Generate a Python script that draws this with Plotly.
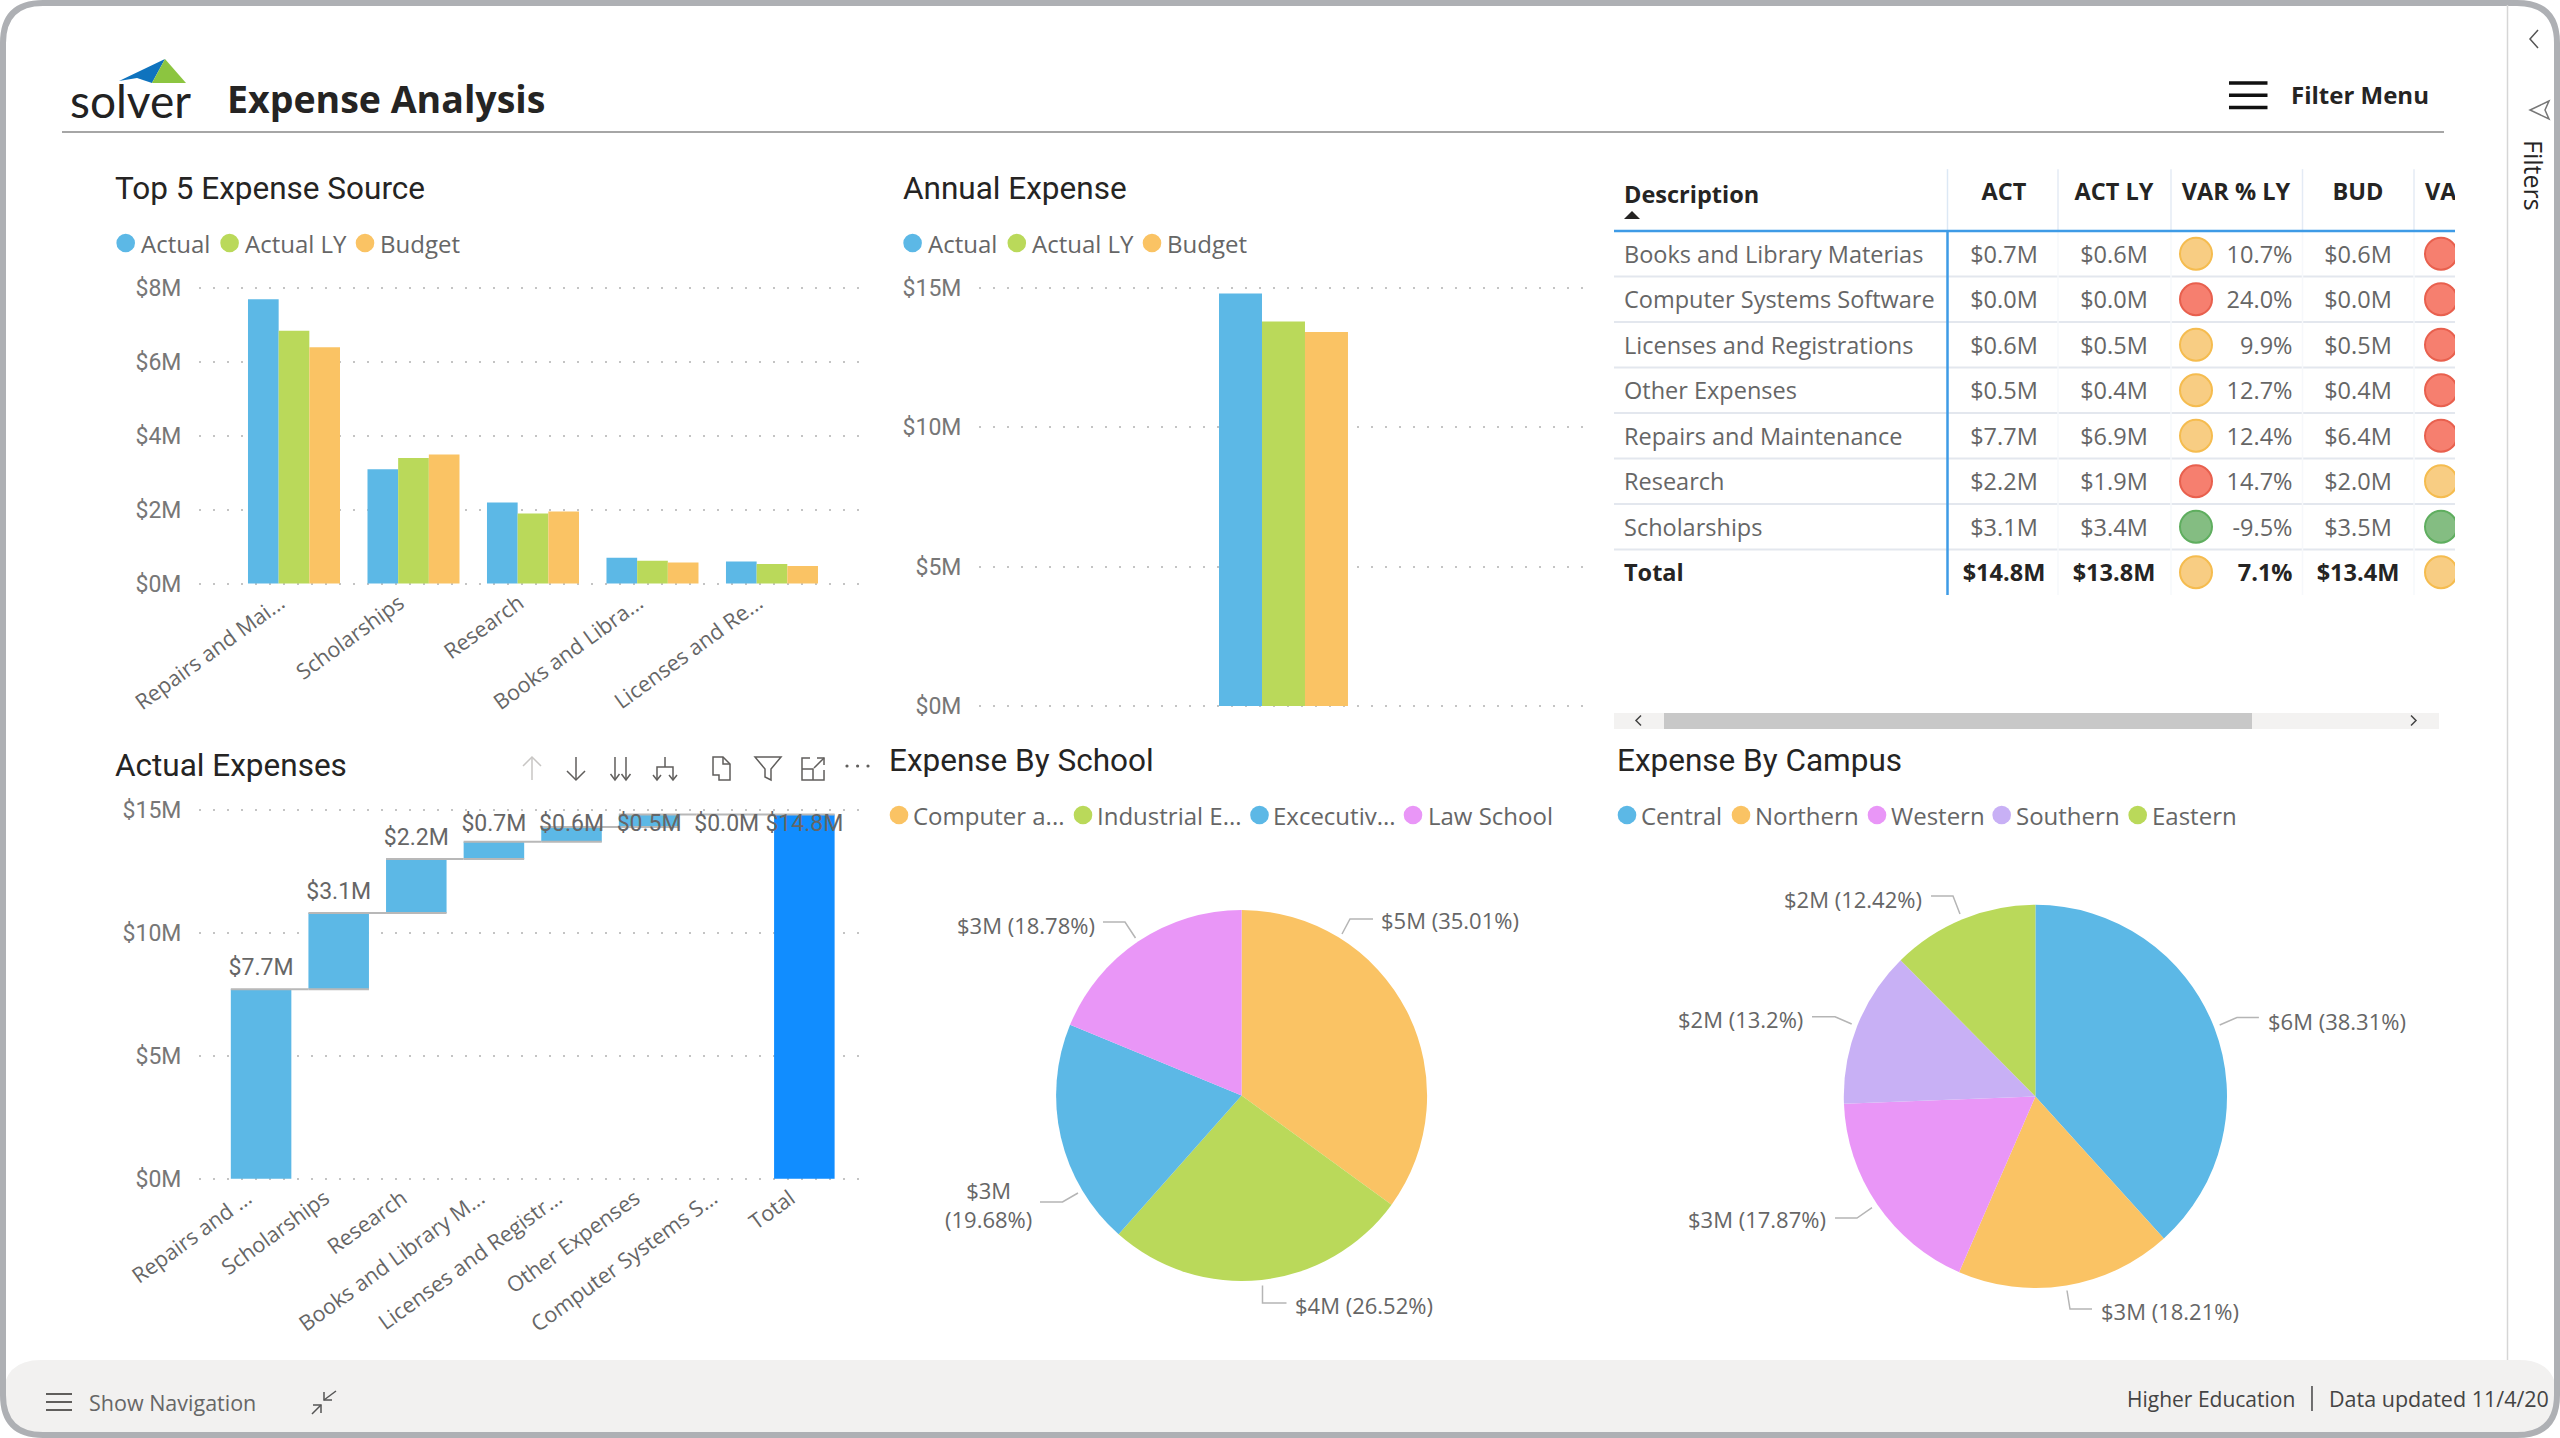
import plotly.graph_objects as go

# ---------- data ----------
TOP5_CATEGORIES = ["Repairs and Mai...", "Scholarships", "Research", "Books and Libra...", "Licenses and Re..."]
TOP5_ACTUAL = [7.7, 3.1, 2.2, 0.7, 0.6]
TOP5_ACTUAL_LY = [6.85, 3.4, 1.9, 0.62, 0.53]
TOP5_BUDGET = [6.4, 3.5, 1.95, 0.57, 0.48]
TOP5_TICKS = [0, 2, 4, 6, 8]
TOP5_TICK_LABELS = ["$0M", "$2M", "$4M", "$6M", "$8M"]

ANNUAL_ACTUAL = [14.8]
ANNUAL_ACTUAL_LY = [13.8]
ANNUAL_BUDGET = [13.42]
M15_TICKS = [0, 5, 10, 15]
M15_TICK_LABELS = ["$0M", "$5M", "$10M", "$15M"]

WF_CATEGORIES = ["Repairs and ...", "Scholarships", "Research", "Books and Library M...",
                 "Licenses and Registr...", "Other Expenses", "Computer Systems S...", "Total"]
WF_VALUES = [7.7, 3.1, 2.2, 0.7, 0.6, 0.5, 0.0, 14.8]
WF_MEASURES = ["relative"] * 7 + ["total"]
WF_LABELS = ["$7.7M", "$3.1M", "$2.2M", "$0.7M", "$0.6M", "$0.5M", "$0.0M", "$14.8M"]

SCHOOL_NAMES = ["Computer a...", "Industrial E...", "Excecutiv...", "Law School"]
SCHOOL_SHARE = [35.01, 26.52, 19.68, 18.78]
CAMPUS_NAMES = ["Central", "Northern", "Western", "Southern", "Eastern"]
CAMPUS_SHARE = [38.31, 18.21, 17.87, 13.2, 12.42]

TBL_DESC = ["Books and Library Materias", "Computer Systems Software", "Licenses and Registrations",
            "Other Expenses", "Repairs and Maintenance", "Research", "Scholarships", "Total"]
TBL_ACT = ["$0.7M", "$0.0M", "$0.6M", "$0.5M", "$7.7M", "$2.2M", "$3.1M", "$14.8M"]
TBL_ACT_LY = ["$0.6M", "$0.0M", "$0.5M", "$0.4M", "$6.9M", "$1.9M", "$3.4M", "$13.8M"]
TBL_VAR_LY = ["10.7%", "24.0%", "9.9%", "12.7%", "12.4%", "14.7%", "-9.5%", "7.1%"]
TBL_BUD = ["$0.6M", "$0.0M", "$0.5M", "$0.4M", "$6.4M", "$2.0M", "$3.5M", "$13.4M"]
TBL_STATUS_LY = ["amber", "red", "amber", "amber", "amber", "red", "green", "amber"]
TBL_STATUS_BUD = ["red", "red", "red", "red", "red", "amber", "green", "amber"]
TBL_HEADERS = ["ACT", "ACT LY", "VAR % LY", "BUD"]

# ---------- style ----------
W, H = 2560, 1438
BLUE, GREEN, ORANGE, PINK, PURPLE, DEEP = "#5CB8E6", "#BAD95A", "#FAC364", "#E996F7", "#C8B0F5", "#118DFF"
GREY_TXT, DARK_TXT, TITLE_TXT = "#666666", "#252423", "#252423"
BODY_FONT, DIN_FONT = "Open Sans", "Roboto"
STATUS_FILL = {"amber": "#F8CD83", "red": "#F67F6F", "green": "#84BD82"}
STATUS_LINE = {"amber": "#F5BC4F", "red": "#E8604E", "green": "#5FAE5F"}

px = lambda x: x / W
py = lambda y: 1 - y / H
shapes, annos = [], []


def text(x, y, s, anchor="left", size=24, color=GREY_TXT, font=BODY_FONT, angle=0):
    annos.append(dict(x=px(x), y=py(y), xref="paper", yref="paper", text=s, xanchor=anchor, yanchor="middle",
                      showarrow=False, borderwidth=0, borderpad=0, textangle=angle,
                      font=dict(family=font, size=size, color=color)))


def path(points, color="#B3B3B3", width=2, fill=None, close=False, layer="above"):
    d = "M " + " L ".join(f"{px(a):.5f},{py(b):.5f}" for a, b in points) + (" Z" if close else "")
    shapes.append(dict(type="path", xref="paper", yref="paper", path=d, layer=layer,
                       line=dict(color=color, width=width), fillcolor=fill or "rgba(0,0,0,0)"))


def dot(cx, cy, r, color):
    shapes.append(dict(type="circle", xref="paper", yref="paper", x0=px(cx - r), x1=px(cx + r),
                       y0=py(cy + r), y1=py(cy - r), fillcolor=color, line=dict(width=0)))


def legend(cy, items, size=24):
    for cx, tx, label, color in items:
        dot(cx, cy, 9.3, color)
        text(tx, cy, label, size=size, color=GREY_TXT)


def rounded(x0, y0, x1, y1, r):
    X, Y = px, py
    return (f"M {X(x0+r)},{Y(y0)} L {X(x1-r)},{Y(y0)} Q {X(x1)},{Y(y0)} {X(x1)},{Y(y0+r)} "
            f"L {X(x1)},{Y(y1-r)} Q {X(x1)},{Y(y1)} {X(x1-r)},{Y(y1)} L {X(x0+r)},{Y(y1)} "
            f"Q {X(x0)},{Y(y1)} {X(x0)},{Y(y1-r)} L {X(x0)},{Y(y0+r)} Q {X(x0)},{Y(y0)} {X(x0+r)},{Y(y0)} Z")


fig = go.Figure()

# ---------- top-5 grouped bars ----------
for name, vals, col in [("Actual", TOP5_ACTUAL, BLUE), ("Actual LY", TOP5_ACTUAL_LY, GREEN), ("Budget", TOP5_BUDGET, ORANGE)]:
    fig.add_bar(x=TOP5_CATEGORIES, y=vals, name=name, marker_color=col, marker_line_width=0, xaxis="x", yaxis="y",
                showlegend=False)
# ---------- annual grouped bars ----------
for name, vals, col in [("Actual", ANNUAL_ACTUAL, BLUE), ("Actual LY", ANNUAL_ACTUAL_LY, GREEN), ("Budget", ANNUAL_BUDGET, ORANGE)]:
    fig.add_bar(x=[0], y=vals, name=name, marker_color=col, marker_line_width=0, xaxis="x2", yaxis="y2",
                showlegend=False)
# ---------- waterfall ----------
fig.add_waterfall(x=WF_CATEGORIES, y=WF_VALUES, measure=WF_MEASURES, xaxis="x3", yaxis="y3", showlegend=False,
                  increasing=dict(marker=dict(color=BLUE, line=dict(width=0))),
                  decreasing=dict(marker=dict(color=BLUE, line=dict(width=0))),
                  totals=dict(marker=dict(color=DEEP, line=dict(width=0))),
                  connector=dict(mode="spanning", line=dict(color="#B8B8B8", width=2)))
running, label_y = 0.0, []
for v, m in zip(WF_VALUES, WF_MEASURES):
    running = v if m == "total" else running + v
    label_y.append(min(running + 0.8, 14.35))
fig.add_scatter(x=WF_CATEGORIES, y=label_y, text=WF_LABELS, mode="text", textposition="middle center", xaxis="x3",
                yaxis="y3", showlegend=False, cliponaxis=False,
                textfont=dict(family=DIN_FONT, size=23, color=GREY_TXT))


# ---------- pies ----------
def dom(x0, x1, y0, y1):
    return dict(x=[px(x0), px(x1)], y=[py(y1), py(y0)])


fig.add_pie(labels=SCHOOL_NAMES, values=SCHOOL_SHARE, sort=False, direction="clockwise", rotation=0, textinfo="none",
            marker=dict(colors=[ORANGE, GREEN, BLUE, PINK], line=dict(width=0)), showlegend=False,
            domain=dom(1056, 1427.2, 910, 1281))
fig.add_pie(labels=CAMPUS_NAMES, values=CAMPUS_SHARE, sort=False, direction="clockwise", rotation=0, textinfo="none",
            marker=dict(colors=[BLUE, ORANGE, PINK, PURPLE, GREEN], line=dict(width=0)), showlegend=False,
            domain=dom(1843.8, 2227, 904.8, 1288))

# ---------- table drawn on its own axes ----------
ROW_IDX = list(range(len(TBL_DESC)))
TEXT_ROWS = [r + 0.07 for r in ROW_IDX]
TABLE_FONT = 23.5


def cells(x, vals, pos):
    fig.add_scatter(x=[x] * 7, y=TEXT_ROWS[:7], text=vals[:7], mode="text", textposition=pos, xaxis="x4", yaxis="y4",
                    showlegend=False, textfont=dict(family=BODY_FONT, size=TABLE_FONT, color=GREY_TXT))
    fig.add_scatter(x=[x], y=TEXT_ROWS[7:], text=["<b>" + vals[7] + "</b>"], mode="text", textposition=pos, xaxis="x4",
                    yaxis="y4", showlegend=False, textfont=dict(family=BODY_FONT, size=TABLE_FONT, color=DARK_TXT))


for x, vals, pos in [(1624, TBL_DESC, "middle right"), (2004, TBL_ACT, "middle center"),
                     (2114, TBL_ACT_LY, "middle center"), (2292.5, TBL_VAR_LY, "middle left"),
                     (2358, TBL_BUD, "middle center")]:
    cells(x, vals, pos)
for x, stat in [(2196, TBL_STATUS_LY), (2441, TBL_STATUS_BUD)]:
    fig.add_scatter(x=[x] * 8, y=ROW_IDX, mode="markers", xaxis="x4", yaxis="y4", showlegend=False,
                    marker=dict(size=32, color=[STATUS_FILL[s] for s in stat],
                                line=dict(width=2, color=[STATUS_LINE[s] for s in stat])))
HEAD_Y = -1.30
fig.add_scatter(x=[2004, 2114, 2236, 2358], y=[HEAD_Y] * 4, text=["<b>" + h + "</b>" for h in TBL_HEADERS], mode="text",
                textposition="middle center", xaxis="x4", yaxis="y4", showlegend=False,
                textfont=dict(family=BODY_FONT, size=TABLE_FONT, color=DARK_TXT))
fig.add_scatter(x=[2425], y=[HEAD_Y], text=["<b>VA</b>"], mode="text", textposition="middle right", xaxis="x4",
                yaxis="y4", showlegend=False, textfont=dict(family=BODY_FONT, size=TABLE_FONT, color=DARK_TXT))
fig.add_scatter(x=[1624], y=[-1.25], text=["<b>Description</b>"], mode="text", textposition="middle right", xaxis="x4",
                yaxis="y4", showlegend=False, textfont=dict(family=BODY_FONT, size=TABLE_FONT, color=DARK_TXT))

for k in range(7):
    shapes.append(dict(type="line", xref="x4", yref="y4", x0=1614, x1=2455, y0=k + 0.5, y1=k + 0.5, layer="below",
                       line=dict(color="#E3E7EE", width=2)))
for xs in [2058, 2171, 2302.5, 2414]:
    shapes.append(dict(type="line", xref="x4", yref="y4", x0=xs, x1=xs, y0=-1.86, y1=-0.5, layer="below",
                       line=dict(color="#E4EBF5", width=1.5)))
    shapes.append(dict(type="line", xref="x4", yref="y4", x0=xs, x1=xs, y0=-0.5, y1=7.5, layer="below",
                       line=dict(color="#F6F8FB", width=1.5)))
shapes.append(dict(type="line", xref="x4", yref="y4", x0=1947.5, x1=1947.5, y0=-1.86, y1=-0.5, layer="below",
                   line=dict(color="#DCE8F5", width=1.5)))
shapes.append(dict(type="line", xref="x4", yref="y4", x0=1614, x1=2455, y0=-0.5, y1=-0.5,
                   line=dict(color="#3E9BE6", width=2.5)))
shapes.append(dict(type="line", xref="x4", yref="y4", x0=1947.5, x1=1947.5, y0=-0.5, y1=7.5,
                   line=dict(color="#3E9BE6", width=2.5)))
path([(1624, 219), (1640, 219), (1632, 211)], color=DARK_TXT, width=0, fill=DARK_TXT, close=True)

# ---------- scrollbar ----------
path([(1614, 713), (2439, 713), (2439, 729), (1614, 729)], color="#F3F2F1", width=0, fill="#F3F2F1", close=True)
path([(1664, 713), (2252, 713), (2252, 729), (1664, 729)], color="#C8C8C8", width=0, fill="#C8C8C8", close=True)
path([(1641, 715.5), (1636, 720.5), (1641, 725.5)], color="#444444", width=1.5)
path([(2411, 715.5), (2416, 720.5), (2411, 725.5)], color="#444444", width=1.5)

# ---------- page chrome ----------
shapes.insert(0, dict(type="path", xref="paper", yref="paper", layer="below", line=dict(width=0), fillcolor="#F2F1F0",
                      path=rounded(3, 1360, 2557, 1435, 38)))
shapes.append(dict(type="path", xref="paper", yref="paper", path=rounded(3, 3, 2557, 1435, 40), fillcolor="rgba(0,0,0,0)",
                   line=dict(color="#AEB0B4", width=6)))
path([(62, 132), (2444, 132)], color="#A6A6A6", width=2)
path([(2507.5, 5), (2507.5, 1360)], color="#D6D6D6", width=1.5)

# logo
path([(119, 81), (165, 59), (152, 83), (137, 78)], color="#0F73BE", width=0, fill="#0F73BE", close=True)
path([(165, 59), (186, 83), (152, 83)], color="#8CC540", width=0, fill="#8CC540", close=True)
text(70, 100, "solver", size=46, color="#222222", font="Lato")
text(227, 98, "<b>Expense Analysis</b>", size=37.5, color=DARK_TXT, font=BODY_FONT)

# filter menu
for y in (83, 95.3, 107.6):
    path([(2229, y), (2267.5, y)], color="#111111", width=3.5)
text(2291, 94, "<b>Filter Menu</b>", size=24, color=DARK_TXT)

# filters pane
path([(2538, 30), (2530, 39), (2538, 48)], color="#555555", width=1.5)
path([(2549, 101), (2530, 110), (2549, 119), (2545, 110)], color="#777777", width=1.5, close=True)
text(2534, 175, "Filters", anchor="center", size=25, color=DARK_TXT, angle=90)

# titles
TITLE = 31.5
text(115, 188, "Top 5 Expense Source", size=TITLE, color=TITLE_TXT, font=DIN_FONT)
text(903, 188, "Annual Expense", size=TITLE, color=TITLE_TXT, font=DIN_FONT)
text(115, 765, "Actual Expenses", size=TITLE, color=TITLE_TXT, font=DIN_FONT)
text(889, 760, "Expense By School", size=TITLE, color=TITLE_TXT, font=DIN_FONT)
text(1616.5, 760, "Expense By Campus", size=TITLE, color=TITLE_TXT, font=DIN_FONT)

# legends
legend(243, [(125.7, 140.6, "Actual", BLUE), (229.6, 245, "Actual LY", GREEN), (365, 379.5, "Budget", ORANGE)])
legend(243, [(912.6, 927.7, "Actual", BLUE), (1016.8, 1031.5, "Actual LY", GREEN), (1152, 1167.4, "Budget", ORANGE)])
legend(815, [(899, 913, SCHOOL_NAMES[0], ORANGE), (1083, 1097, SCHOOL_NAMES[1], GREEN),
             (1259.5, 1273, SCHOOL_NAMES[2], BLUE), (1413, 1428, SCHOOL_NAMES[3], PINK)])
legend(815, [(1627, 1641, CAMPUS_NAMES[0], BLUE), (1741, 1755, CAMPUS_NAMES[1], ORANGE),
             (1877, 1891, CAMPUS_NAMES[2], PINK), (2001.7, 2016.4, CAMPUS_NAMES[3], PURPLE),
             (2137.7, 2152, CAMPUS_NAMES[4], GREEN)])

# pie labels and leaders
PIE_LBL = 22
for x, y, s, a, pts in [
    (1381.4, 920, "$5M (35.01%)", "left", [(1342, 934), (1350, 919), (1373, 919)]),
    (1095, 924.7, "$3M (18.78%)", "right", [(1103, 922), (1125, 922), (1135.5, 938)]),
    (1032, 1204, "$3M<br>(19.68%)", "right", [(1040, 1202), (1062.5, 1202), (1078, 1193)]),
    (1295, 1305, "$4M (26.52%)", "left", [(1262.5, 1285.5), (1262.5, 1303), (1286.5, 1303)]),
    (2268, 1021, "$6M (38.31%)", "left", [(2219.7, 1025), (2236.9, 1017.6), (2258.9, 1017.6)]),
    (2101, 1310.7, "$3M (18.21%)", "left", [(2067, 1290.5), (2070, 1309), (2092, 1309)]),
    (1826, 1219, "$3M (17.87%)", "right", [(1835, 1218), (1857, 1218), (1872, 1207.6)]),
    (1803.3, 1019, "$2M (13.2%)", "right", [(1812, 1016.7), (1835, 1016.7), (1851.7, 1024)]),
    (1922, 898.6, "$2M (12.42%)", "right", [(1931, 896), (1953, 896), (1960, 914)]),
]:
    text(x, y, s, anchor=a, size=PIE_LBL, color=GREY_TXT)
    path(pts, color="#B5B5B5", width=1.5)

# waterfall visual-header icons
ICON, ICON_OFF = "#605E5C", "#C8C6C4"
path([(532, 757), (532, 780)], color=ICON_OFF, width=1.5)
path([(523, 766), (532, 757), (541, 766)], color=ICON_OFF, width=1.5)
path([(576, 757), (576, 780)], color=ICON, width=1.5)
path([(567, 771), (576, 780), (585, 771)], color=ICON, width=1.5)
for c in (615, 626):
    path([(c, 757), (c, 780)], color=ICON, width=1.5)
    path([(c - 4.5, 774), (c, 780), (c + 4.5, 774)], color=ICON, width=1.5)
path([(665, 757), (665, 767)], color=ICON, width=1.5)
path([(657, 780), (657, 767), (673, 767), (673, 780)], color=ICON, width=1.5)
for c in (657, 673):
    path([(c - 4, 775), (c, 780), (c + 4, 775)], color=ICON, width=1.5)
path([(713, 757), (723, 757), (730, 764), (730, 780), (719, 780), (719, 775), (713, 775)], color=ICON, width=1.5, close=True)
path([(723, 757), (723, 764), (730, 764)], color=ICON, width=1.5)
path([(755, 757), (781, 757), (771, 769), (771, 780), (765, 777), (765, 769)], color=ICON, width=1.5, close=True)
path([(810, 758), (802, 758), (802, 780), (824, 780), (824, 770)], color=ICON, width=1.5)
path([(802, 769), (813, 769), (813, 780)], color=ICON, width=1.5)
path([(814, 768), (824, 758)], color=ICON, width=1.5)
path([(817, 758), (824, 758), (824, 765)], color=ICON, width=1.5)
for c in (847, 857.6, 868):
    dot(c, 766, 1.6, ICON)

# bottom bar
for y in (1394, 1402, 1410):
    path([(46, y), (72, y)], color="#605E5C", width=2)
text(89, 1402, "Show Navigation", size=21.5, color=GREY_TXT)
path([(336, 1391), (324, 1400)], color="#555555", width=1.5)
path([(324, 1392), (324, 1400), (332, 1400)], color="#555555", width=1.5)
path([(312, 1414), (321, 1405)], color="#555555", width=1.5)
path([(313, 1405), (321, 1405), (321, 1413)], color="#555555", width=1.5)
text(2126.6, 1398.5, "Higher Education", size=21, color="#444444")
path([(2312, 1386), (2312, 1411)], color="#444444", width=1.5)
text(2328.7, 1398.5, "Data updated 11/4/20", size=21.5, color="#444444")


# ---------- layout ----------
def xdom(a, b):
    return [px(a), px(b)]


def yaxis_px(top, bottom, lo, hi, pad=2.0):
    """Axis pixel box with a small pad so that the first and last gridlines are still drawn."""
    per_px = (hi - lo) / (bottom - top)
    return dict(domain=[py(bottom + pad), py(top - pad)], range=[lo - pad * per_px, hi + pad * per_px])


GRID = dict(showgrid=True, gridcolor="#C4C4C4", gridwidth=1.5, griddash="1.5px,12.5px", zeroline=False, showline=False,
            ticks="outside", ticklen=12, tickcolor="rgba(0,0,0,0)", automargin=False,
            tickfont=dict(family=DIN_FONT, size=23, color="#777777"), fixedrange=True)
XAX = dict(showgrid=False, zeroline=False, showline=False, ticks="", fixedrange=True, ticklabelstandoff=0,
           ticklabelshift=-14, automargin=False, tickfont=dict(family=BODY_FONT, size=21.5, color=GREY_TXT))

fig.update_layout(
    template="none",
    width=W, height=H, autosize=False, margin=dict(l=0, r=0, t=0, b=0, pad=0), paper_bgcolor="white",
    plot_bgcolor="rgba(0,0,0,0)", barmode="group", bargap=0.23, bargroupgap=0, waterfallgap=0.22, showlegend=False,
    shapes=shapes, annotations=annos,
    xaxis=dict(XAX, domain=xdom(199, 861), range=[-0.795, 4.745], tickangle=-36, type="category",
               categoryorder="array", categoryarray=TOP5_CATEGORIES),
    yaxis=dict(GRID, **yaxis_px(288.3, 583.6, 0, 8), tickvals=TOP5_TICKS, ticktext=TOP5_TICK_LABELS),
    xaxis2=dict(XAX, domain=xdom(979, 1594), range=[-1.818, 1.854], showticklabels=False, type="linear", anchor="y2"),
    yaxis2=dict(GRID, **yaxis_px(288, 706, 0, 15), tickvals=M15_TICKS, ticktext=M15_TICK_LABELS, anchor="x2"),
    xaxis3=dict(XAX, domain=xdom(199, 861), range=[-0.8, 7.73], tickangle=-36, type="category", anchor="y3",
                categoryorder="array", categoryarray=WF_CATEGORIES),
    yaxis3=dict(GRID, **yaxis_px(809.7, 1178.8, 0, 15), tickvals=M15_TICKS, ticktext=M15_TICK_LABELS, anchor="x3"),
    xaxis4=dict(domain=xdom(1614, 2455), range=[1614, 2455], visible=False, anchor="y4", fixedrange=True, automargin=False),
    yaxis4=dict(domain=[py(600), py(169)], range=[7.61, -1.863], visible=False, anchor="x4", fixedrange=True, automargin=False),
)

fig.write_html("out.html", config={"displayModeBar": False},
               post_script="document.body.style.margin='0';document.documentElement.style.overflow='hidden';")
